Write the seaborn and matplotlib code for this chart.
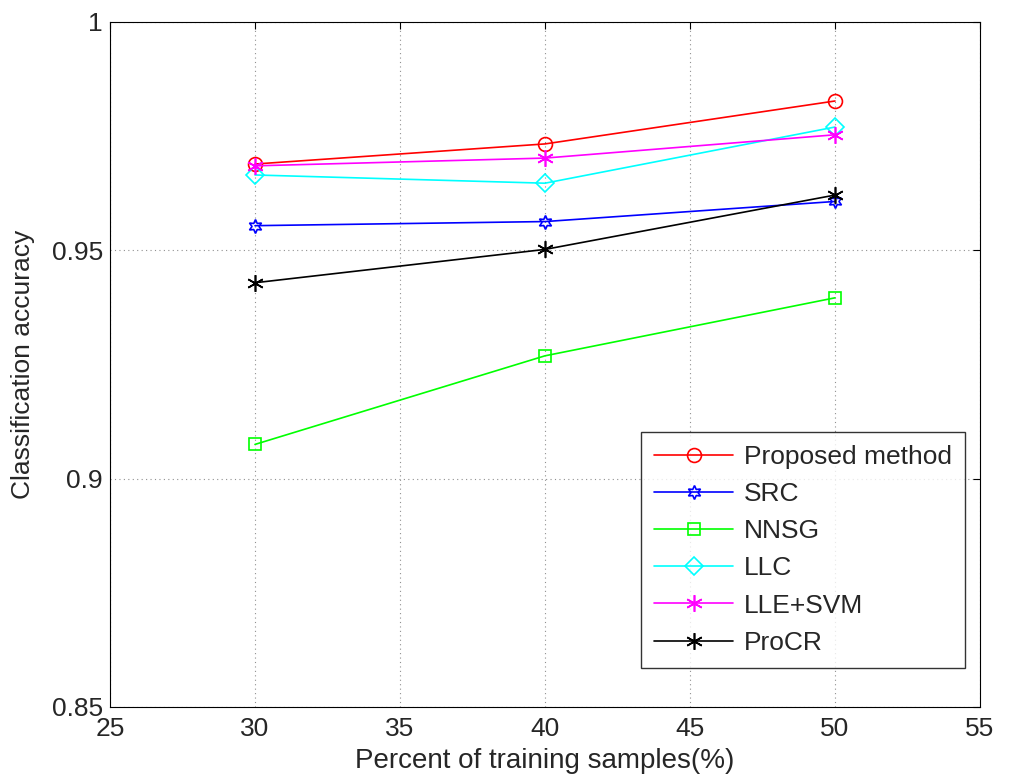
import matplotlib
matplotlib.use("Agg")
import matplotlib.pyplot as plt
import seaborn as sns
import pandas as pd

# Daten
prozent = [30, 40, 50]
methoden = ["Proposed method", "SRC", "NNSG", "LLC", "LLE+SVM", "ProCR"]
proposed = [0.9689, 0.9733, 0.9827]
src      = [0.9554, 0.9563, 0.9607]
nnsg     = [0.9075, 0.9269, 0.9396]
llc      = [0.9665, 0.9647, 0.9770]
lle_svm  = [0.9685, 0.9702, 0.9753]
procr    = [0.9429, 0.9502, 0.9621]

farben = ["#ff0000", "#0000ff", "#00ff00", "#00ffff", "#ff00ff", "#000000"]
marker = ["o", (6, 1, 0), "s", "D", (6, 2, 0), (6, 2, 0)]
groesse = [10, 10, 9, 9, 12, 12]

werte = [proposed, src, nnsg, llc, lle_svm, procr]
df = pd.DataFrame({
    "x": prozent * len(methoden),
    "acc": [v for reihe in werte for v in reihe],
    "methode": [m for m in methoden for _ in prozent],
})

sns.set_theme(style="white")
plt.rcParams["font.family"] = ["Liberation Sans", "DejaVu Sans"]

fig = plt.figure(figsize=(10.11, 7.8), dpi=100)
ax = fig.add_axes([0.1088, 0.0936, 0.8605, 0.8782])

sns.lineplot(data=df, x="x", y="acc", hue="methode", hue_order=methoden,
             palette=farben, legend=False, ax=ax, linewidth=1.2)

for line, c, m, s, lab in zip(ax.lines, farben, marker, groesse, methoden):
    line.set_marker(m)
    line.set_markersize(s)
    line.set_markerfacecolor("none")
    line.set_markeredgecolor(c)
    line.set_markeredgewidth(1.2)
    line.set_label(lab)

ax.set_xlim(25, 55)
ax.set_ylim(0.85, 1.0)
ax.set_xticks([25, 30, 35, 40, 45, 50, 55])
ax.set_yticks([0.85, 0.9, 0.95, 1.0])
ax.set_yticklabels(["0.85", "0.9", "0.95", "1"])
ax.grid(True, linestyle=(0, (1, 3)), color="#909090", linewidth=0.8)
ax.tick_params(direction="in", length=5, labelsize=19, top=True, right=True,
               color="black", width=0.8)
ax.tick_params(axis="y", pad=5)
ax.tick_params(axis="x", pad=7)
for sp in ax.spines.values():
    sp.set_color("black")
    sp.set_linewidth(0.8)

ax.set_xlabel("Percent of training samples(%)", fontsize=20, labelpad=5)
ax.set_ylabel("Classification accuracy", fontsize=19, labelpad=12)

leg = ax.legend(loc="lower right", bbox_to_anchor=(0.983, 0.057),
                borderaxespad=0, fontsize=19, frameon=True, fancybox=False,
                handlelength=3.0, labelspacing=0.5, borderpad=0.5,
                handletextpad=0.4)
leg.get_frame().set_edgecolor("black")
leg.get_frame().set_linewidth(1.0)

fig.savefig("out.png", dpi=100)
plt.close("all")
